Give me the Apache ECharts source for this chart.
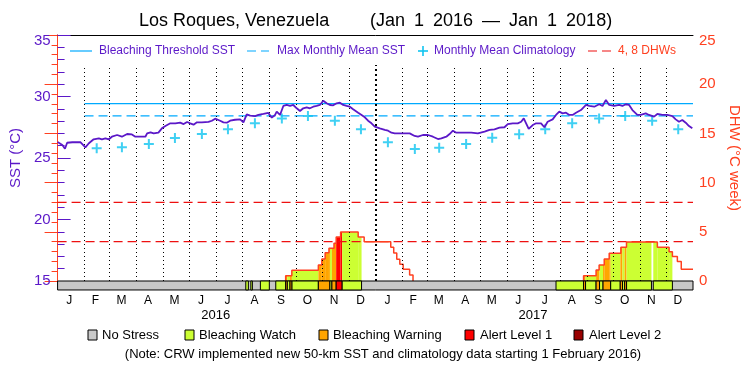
<!DOCTYPE html>
<html><head><meta charset="utf-8">
<script src="https://cdn.jsdelivr.net/npm/echarts@6/dist/echarts.min.js"></script>
<style>html,body{margin:0;padding:0;background:#fff}#c{width:750px;height:375px}</style>
</head><body><div id="c"></div>
<script>
// ---------- data (day 0 = 1 Jan 2016) ----------
const monthStarts = [0,31,60,91,121,152,182,213,244,274,305,335,366,397,425,456,486,517,547,578,609,639,670,700,731];
const monthLetters = ['J','F','M','A','M','J','J','A','S','O','N','D','J','F','M','A','M','J','J','A','S','O','N','D'];
const yearLabels = ['2016','2017'];
const yearLabelDays = [182, 547];
const sstTicks = [15,20,25,30,35];
const dhwTicks = [0,5,10,15,20,25];

const sst2016 = [[0,26.3],[1.5,26.2],[5.5,26.06],[8.5,25.75],[11,26.24],[17,26.28],[26.5,26.28],[28.5,26.14],[32,25.87],[36,26.2],[41.5,26.52],[47.5,26.6],[51,26.52],[55,26.6],[59,26.52],[62.5,26.73],[68.5,26.87],[74,26.73],[80,26.95],[85.5,26.92],[89.5,26.73],[95,26.73],[101,26.73],[103,27.0],[107,27.09],[110.5,27.0],[112.5,27.14],[116,27.06],[120,27.41],[124,27.6],[129.7,27.82],[135.5,27.82],[141,27.87],[145,27.76],[149,27.93],[152.6,27.82],[156.4,27.71],[160.3,27.9],[166,27.9],[173.6,27.93],[177.5,28.03],[181.3,28.2],[187,28.03],[190.8,27.9],[194.7,27.87],[198.5,28.03],[204.2,28.11],[210,28.14],[213.8,27.9],[217.6,28.55],[221.5,28.44],[223.4,28.55],[227.2,28.41],[231,28.5],[236.8,28.58],[242.5,28.66],[246.4,28.28],[250.2,28.5],[252.1,28.77],[255.9,28.5],[259.7,29.23],[263.6,29.31],[267.4,29.23],[271.2,29.31],[275.1,29.04],[278.9,28.82],[282.6,29.04],[286.6,29.12],[290.3,29.04],[294.1,29.17],[298,29.23],[301.8,29.31],[305.6,29.66],[309.5,29.45],[313.3,29.31],[317.1,29.28],[321,29.45],[324.8,29.5],[328.6,29.31],[332.5,29.23],[336.2,29.17],[340,28.96],[345.8,28.68],[349.7,28.5],[353.5,28.31],[357.2,28.03],[361.1,27.82],[364.9,27.55]];
const sst2017 = [[370.7,27.41],[376.4,27.28],[380.2,27.22],[384.1,27.06],[387.9,27.0],[397.4,27.0],[405.1,27.0],[410.8,26.79],[414.6,26.73],[420.3,26.87],[426.1,26.87],[431.8,26.73],[437.6,26.54],[441.5,26.6],[447.2,26.73],[451,26.95],[454.8,27.22],[458.7,27.06],[464.4,27.06],[475.9,27.06],[483.5,27.0],[485.4,27.06],[491.2,27.14],[496.9,27.28],[502.6,27.33],[508.4,27.47],[514.1,27.5],[517.9,27.76],[523.6,27.82],[529.4,27.82],[533.3,27.95],[536.3,28.22],[539,27.82],[542,27.36],[546.6,27.68],[550.5,27.82],[556.2,27.82],[560,27.5],[563.8,27.95],[569.5,28.14],[573.4,28.5],[577.2,28.77],[581,28.63],[584.9,28.68],[588.7,28.5],[592.5,28.5],[596.4,28.68],[602.1,28.9],[607.9,29.31],[611.7,29.23],[617.4,29.17],[623.1,29.37],[626.9,29.23],[630.8,29.72],[632.6,29.77],[634.6,29.31],[640.3,29.23],[646,29.31],[649.8,29.23],[653.7,29.37],[657.5,29.31],[661.3,28.9],[667,28.5],[670.9,28.5],[676.6,28.63],[680.4,28.5],[686.2,28.36],[690,28.58],[695.8,28.5],[701.5,28.5],[707.3,28.41],[711.1,28.14],[714.9,27.95],[718.7,28.09],[722.6,27.87],[726.4,27.6],[730.2,27.41]];

// monthly mean climatology, Feb 2016 .. Dec 2017 (plotted on the 15th)
const climMonths = [1,2,3,4,5,6,7,8,9,10,11,12,13,14,15,16,17,18,19,20,21,22,23];
const climValues = [25.79,25.87,26.14,26.63,26.95,27.33,27.82,28.22,28.41,28.03,27.33,26.28,25.73,25.84,26.14,26.65,26.93,27.33,27.82,28.22,28.41,28.03,27.33];
const mmmValue = 28.42;
const thresholdValue = 29.42;
const climStartDay = 31;
const dhwLevels = [4, 8];

// degree heating weeks: [day from which value holds, DHW]
const dhw2016 = [[0,0],[262.4,0.54],[269.5,1.1],[300,1.63],[304,2.24],[307.8,2.86],[312.2,3.33],[318,3.84],[320.5,4.46],[325.6,4.97],[345.8,4.46],[352.7,3.98],[383.3,3.44],[386.7,2.85],[390.2,2.22],[393.7,1.7],[397.6,1.19],[405,0.61],[408.9,0]];
const dhw2017 = [[605.1,0.54],[619.5,1.12],[623,1.63],[628.9,2.24],[634.6,2.82],[648,3.42],[654.5,3.97],[690,3.43],[703.5,2.96],[707.3,2.48],[713,1.97],[717.5,1.19],[731,1.19]];

// alert status runs: [start day, end day, level] 1=Watch 2=Warning 3=Alert1 4=Alert2
const status2016 = [[216.5,219.5,1],[222.3,224.1,1],[233.3,243.6,1],[251,262.4,1],[262.4,264.3,2],[264.3,267.4,1],[267.4,269.7,2],[269.7,300,1],[300,313.3,2],[313.3,315.6,1],[315.6,320.5,2],[320.5,327.4,3],[327.4,349.7,1]];
const status2017 = [[573.4,605.1,1],[605.1,607.4,2],[607.4,619.5,1],[619.5,623.5,2],[623.5,627.5,1],[627.5,636.3,2],[636.3,647.3,1],[647.3,649.9,2],[649.9,652.4,1],[652.4,654.6,2],[654.6,683.2,1],[685.3,707.3,1]];

const statusNames = ['No Stress','Bleaching Watch','Bleaching Warning','Alert Level 1','Alert Level 2'];

// ---------- styles ----------
const FONT = 'Liberation Sans, Arial, sans-serif';
const PURPLE = '#5B18C8';
const CYAN = '#00AAFF';
const CYAN_M = '#10C4F0';
const RED = '#EE1010';
const ORANGE = '#FF4020';
const statusColors = ['#C8C8C8','#CCFF33','#FFA500','#FF0000','#990000'];

const sstAll = sst2016.concat(sst2017);
const dhwSteps = dhw2016.concat(dhw2017);
const statusRuns = status2016.concat(status2017);
const monthMids = monthStarts.slice(0,-1).map((s,i)=> (s+monthStarts[i+1])/2 - 2);
const climData = climMonths.map((m,i)=>[monthStarts[m]+14, climValues[i]]);

// DHW line: leave out the stretches that sit at zero (they are hidden by the status bar)
const dhwLine = [];
dhwSteps.forEach((p,i)=>{
  if (p[1] === 0) {
    if (i > 0) { dhwLine.push([p[0], 0]); dhwLine.push(null); }
  } else {
    if (i > 0 && dhwSteps[i-1][1] === 0) dhwLine.push([p[0], 0]);
    dhwLine.push(p);
  }
});

function dhwAt(d){ let v=0; for(const p of dhwSteps){ if(p[0]<=d) v=p[1]; else break; } return v; }
function statusAt(d){ for(const r of statusRuns){ if(d>=r[0] && d<r[1]) return r[2]; } return 0; }
const bps = Array.from(new Set([0,731].concat(dhwSteps.map(p=>p[0]), statusRuns.flatMap(r=>[r[0],r[1]])))).sort((a,b)=>a-b);
const fillSegs = [];
for (let i=0;i<bps.length-1;i++){
  const a=bps[i], b=bps[i+1], m=(a+b)/2, v=dhwAt(m), l=statusAt(m);
  if (v>0 && l>0) fillSegs.push([a,b,v,l]);
}
const barRuns = [[0,731,0]].concat(statusRuns);

const monthLines = monthStarts.slice(1,-1).map(d => [
  {coord:[d,15], lineStyle: d===366 ? {width:2, type:[2,3], color:'#000'} : {width:1, type:[1,3], color:'#000'}},
  {coord:[d,32.56]}
]);

function topLabel(maxV){
  return (v)=> v===maxV ? '{t|'+v+'}' : String(v);
}

const chart = echarts.init(document.getElementById('c'), null, {renderer:'canvas'});
const option = {
  animation:false,
  backgroundColor:'#fff',
  title:[
    {text:'Los Roques, Venezuela', left:139, top:12, padding:0, textStyle:{fontFamily:FONT, fontSize:18, fontWeight:'normal', color:'#000'}},
    {text:'(Jan\u20021\u20022016\u2002\u2014\u2002Jan\u20021\u20022018)', left:370, top:12, padding:0, textStyle:{fontFamily:FONT, fontSize:18, fontWeight:'normal', color:'#000'}}
  ],
  grid:{left:57, right:56, top:35, bottom:94, containLabel:false},
  xAxis:[
    {type:'value', min:0, max:731, position:'bottom', axisLine:{show:false}, axisTick:{show:false}, splitLine:{show:false},
     axisLabel:{customValues:monthMids, formatter:(v)=>{const i=monthMids.findIndex(m=>Math.abs(m-v)<0.01); return i>=0?monthLetters[i]:'';}, margin:14, color:'#000', fontSize:12, fontFamily:FONT}},
    {type:'value', min:0, max:731, position:'bottom', axisLine:{show:false}, axisTick:{show:false}, splitLine:{show:false},
     axisLabel:{customValues:yearLabelDays, formatter:(v)=>yearLabels[yearLabelDays.indexOf(v)] || '', margin:28, color:'#000', fontSize:13, fontFamily:FONT}},
    {type:'value', min:0, max:731, position:'top', axisLine:{show:true, lineStyle:{color:'#000', width:1}}, axisTick:{show:false}, axisLabel:{show:false}, splitLine:{show:false}}
  ],
  yAxis:[
    {type:'value', min:sstTicks[0], max:sstTicks[sstTicks.length-1], interval:5, position:'left',
     name:'SST (\u00B0C)', nameLocation:'middle', nameGap:30, nameRotate:90, nameTextStyle:{color:PURPLE, fontSize:15, fontFamily:FONT},
     axisLine:{show:true, lineStyle:{color:PURPLE, width:1}},
     axisTick:{show:true, inside:false, length:-13, lineStyle:{color:PURPLE}},
     minorTick:{show:true, splitNumber:5, length:-7, lineStyle:{color:PURPLE}},
     axisLabel:{color:PURPLE, fontSize:15, margin:7, fontFamily:FONT, formatter:topLabel(35), rich:{t:{fontSize:15, color:PURPLE, fontFamily:FONT, padding:[12,0,0,0]}}},
     splitLine:{show:false}},
    {type:'value', min:dhwTicks[0], max:dhwTicks[dhwTicks.length-1], interval:5, position:'right',
     name:'DHW (\u00B0C week)', nameLocation:'middle', nameGap:34, nameRotate:-90, nameTextStyle:{color:ORANGE, fontSize:15, fontFamily:FONT},
     axisLine:{show:true, lineStyle:{color:ORANGE, width:1}},
     axisTick:{show:true, inside:false, length:-13, lineStyle:{color:ORANGE}},
     minorTick:{show:true, splitNumber:5, length:-6, lineStyle:{color:ORANGE}},
     axisLabel:{color:ORANGE, fontSize:15, margin:6, fontFamily:FONT, formatter:topLabel(25), rich:{t:{fontSize:15, color:ORANGE, fontFamily:FONT, padding:[12,0,0,0]}}},
     splitLine:{show:false}}
  ],
  series:[
    {type:'custom', name:'fill', xAxisIndex:0, yAxisIndex:1, z:1, silent:true,
     data:fillSegs,
     renderItem:(params, api)=>{
       const p0 = api.coord([api.value(0), 0]);
       const p1 = api.coord([api.value(1), api.value(2)]);
       return {type:'rect', shape:{x:p0[0], y:p1[1], width:p1[0]-p0[0], height:p0[1]-p1[1]},
               style:{fill:statusColors[api.value(3)], stroke:null}};
     }},
    {type:'line', name:'dhwLevels4', xAxisIndex:0, yAxisIndex:1, z:2, silent:true, symbol:'none',
     data:[[0,dhwLevels[0]],[731,dhwLevels[0]]], lineStyle:{color:RED, width:1.2, type:[9,5]}},
    {type:'line', name:'dhwLevels8', xAxisIndex:0, yAxisIndex:1, z:2, silent:true, symbol:'none',
     data:[[0,dhwLevels[1]],[731,dhwLevels[1]]], lineStyle:{color:RED, width:1.2, type:[9,5]}},
    {type:'line', name:'DHW', xAxisIndex:0, yAxisIndex:1, z:3, silent:true, symbol:'none', step:'end', connectNulls:false,
     data:dhwLine, lineStyle:{color:ORANGE, width:1.5}},
    {type:'line', name:'Bleaching Threshold SST', xAxisIndex:0, yAxisIndex:0, z:3, silent:true, symbol:'none',
     data:[[climStartDay,thresholdValue],[731,thresholdValue]], lineStyle:{color:CYAN, width:1.2},
     markLine:{silent:true, symbol:['none','none'], label:{show:false}, data:monthLines, lineStyle:{color:'#000'}}},
    {type:'line', name:'Max Monthly Mean SST', xAxisIndex:0, yAxisIndex:0, z:3, silent:true, symbol:'none',
     data:[[climStartDay,mmmValue],[731,mmmValue]], lineStyle:{color:CYAN, width:1.2, type:[9,5]}},
    {type:'custom', name:'status', xAxisIndex:0, yAxisIndex:0, z:4, silent:true, clip:false,
     data:barRuns,
     renderItem:(params, api)=>{
       const p0 = api.coord([api.value(0), 15]);
       const p1 = api.coord([api.value(1), 14.27]);
       return {type:'rect', shape:{x:p0[0], y:p0[1], width:p1[0]-p0[0], height:p1[1]-p0[1]},
               style:{fill:statusColors[api.value(2)], stroke:'#000', lineWidth:1}};
     }},
    {type:'scatter', name:'Monthly Mean Climatology', xAxisIndex:0, yAxisIndex:0, z:5, silent:true,
     symbol:'path://M4,0H6V4H10V6H6V10H4V6H0V4H4Z', symbolSize:10, itemStyle:{color:CYAN_M},
     data:climData},
    {type:'line', name:'SST', xAxisIndex:0, yAxisIndex:0, z:6, silent:true, symbol:'none',
     data:sstAll, lineStyle:{color:PURPLE, width:1.8}}
  ],
  graphic:[
    {type:'line', shape:{x1:70,y1:51,x2:92,y2:51}, style:{stroke:CYAN, lineWidth:1.2}},
    {type:'text', x:99, y:51, style:{text:'Bleaching Threshold SST', fill:PURPLE, font:'12px '+FONT, verticalAlign:'middle'}},
    {type:'line', shape:{x1:247,y1:51,x2:269,y2:51}, style:{stroke:CYAN, lineWidth:1.2, lineDash:[9,5]}},
    {type:'text', x:277, y:51, style:{text:'Max Monthly Mean SST', fill:PURPLE, font:'12px '+FONT, verticalAlign:'middle'}},
    {type:'line', shape:{x1:418,y1:51,x2:428,y2:51}, style:{stroke:CYAN_M, lineWidth:1.6}},
    {type:'line', shape:{x1:423,y1:46,x2:423,y2:56}, style:{stroke:CYAN_M, lineWidth:1.6}},
    {type:'text', x:434, y:51, style:{text:'Monthly Mean Climatology', fill:PURPLE, font:'12px '+FONT, verticalAlign:'middle'}},
    {type:'line', shape:{x1:588,y1:51,x2:612,y2:51}, style:{stroke:RED, lineWidth:1.2, lineDash:[9,5]}},
    {type:'text', x:618, y:51, style:{text:'4, 8 DHWs', fill:ORANGE, font:'12px '+FONT, verticalAlign:'middle'}},

    {type:'rect', shape:{x:88,y:330,width:9,height:10}, style:{fill:statusColors[0], stroke:'#000', lineWidth:1}},
    {type:'text', x:102, y:335, style:{text:statusNames[0], fill:'#000', font:'13px '+FONT, verticalAlign:'middle'}},
    {type:'rect', shape:{x:185,y:330,width:9,height:10}, style:{fill:statusColors[1], stroke:'#000', lineWidth:1}},
    {type:'text', x:199, y:335, style:{text:statusNames[1], fill:'#000', font:'13px '+FONT, verticalAlign:'middle'}},
    {type:'rect', shape:{x:319,y:330,width:9,height:10}, style:{fill:statusColors[2], stroke:'#000', lineWidth:1}},
    {type:'text', x:333, y:335, style:{text:statusNames[2], fill:'#000', font:'13px '+FONT, verticalAlign:'middle'}},
    {type:'rect', shape:{x:465,y:330,width:9,height:10}, style:{fill:statusColors[3], stroke:'#000', lineWidth:1}},
    {type:'text', x:480, y:335, style:{text:statusNames[3], fill:'#000', font:'13px '+FONT, verticalAlign:'middle'}},
    {type:'rect', shape:{x:574,y:330,width:9,height:10}, style:{fill:statusColors[4], stroke:'#000', lineWidth:1}},
    {type:'text', x:589, y:335, style:{text:statusNames[4], fill:'#000', font:'13px '+FONT, verticalAlign:'middle'}},
    {type:'text', x:383, y:354, style:{text:'(Note: CRW implemented new 50-km SST and climatology data starting 1 February 2016)', fill:'#000', font:'13px '+FONT, align:'center', verticalAlign:'middle'}}
  ]
};
chart.setOption(option);
</script>
</body></html>
